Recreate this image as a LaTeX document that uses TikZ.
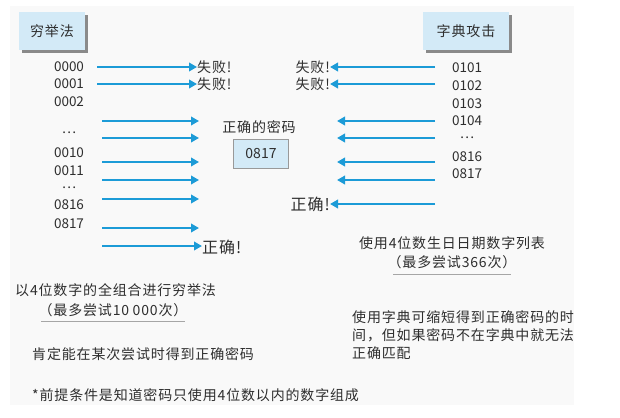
\documentclass[tikz,border=0pt]{standalone}
\usepackage{fontspec}
\setmainfont{Noto Sans CJK SC}
\newfontfamily\cjkspaced[LetterSpace=6]{Noto Sans CJK SC}
\usetikzlibrary{arrows.meta}
\definecolor{arrowblue}{HTML}{1C9BD7}
\definecolor{boxblue}{HTML}{D3EAF7}
\definecolor{txt}{HTML}{2E2E2E}
\definecolor{shadowgray}{HTML}{8A8A8A}
\definecolor{bgpale}{HTML}{F9F9F9}
\begin{document}
\begin{tikzpicture}[x=1pt,y=-1pt,
  every node/.style={text=txt,inner sep=0pt},
  num/.style={font=\fontsize{13.5}{14}\selectfont},
  cjk/.style={font=\cjkspaced\fontsize{14}{18}\selectfont},
  big/.style={font=\cjkspaced\fontsize{16}{18}\selectfont},
  titlebox/.style={draw=none,fill=boxblue,minimum width=66pt,minimum height=38pt,font=\cjkspaced\fontsize{14}{16}\selectfont},
  arr/.style={draw=arrowblue,line width=2.6pt,-{Triangle[length=8pt,width=8.5pt]}},
  uline/.style={draw=gray!70,line width=1pt}]
\useasboundingbox (0,0) rectangle (620,417);
\fill[bgpale] (10,6) rectangle (574,405);

% title boxes with shadow
\fill[shadowgray] (22,15) rectangle (88,53);
\node[titlebox] (tbl) at (52,31) {穷举法};
\fill[shadowgray] (426,15) rectangle (512,53);
\node[titlebox,minimum width=86pt] (tbr) at (466,31) {字典攻击};

% left numbers
\foreach \t/\y/\n in {0000/67/a,0001/84/b,0002/102/c,\dots/133/d,0010/153/e,0011/171/f,\dots/188/g,0816/205/h,0817/224/i}
  \node[num] (L\n) at (69,\y) {\t};

% right numbers
\foreach \t/\y/\n in {0101/68/a,0102/86/b,0103/104/c,0104/121/d,\dots/138/e,0816/157/f,0817/174/g}
  \node[num] (R\n) at (467,\y) {\t};

% left fail labels
\node[cjk,anchor=west] (lf1) at (197,67) {失败!};
\node[cjk,anchor=west] (lf2) at (197,84) {失败!};
% right fail labels
\node[cjk,anchor=east] (rf1) at (330,67) {失败!};
\node[cjk,anchor=east] (rf2) at (330,84) {失败!};

% correct password
\node[cjk] (pwlabel) at (259,127) {正确的密码};
\node[draw=gray!80,fill=boxblue,line width=0.8pt,minimum width=55pt,minimum height=29pt,font=\fontsize{14}{15}\selectfont] (pw) at (261,154) {0817};

% correct labels
\node[big,anchor=west] (lok) at (202,247) {正确!};
\node[big,anchor=east] (rok) at (330,204) {正确!};

% left arrows
\coordinate (s1) at (97,67);  \coordinate (e1) at (lf1.west);
\coordinate (s2) at (97,84);  \coordinate (e2) at (lf2.west);
\draw[arr] (s1) -- (e1);
\draw[arr] (s2) -- (e2);
\foreach \y/\n in {121/3,138/4,162/5,180/6,199/7,228/8}{
  \coordinate (s\n) at (102,\y); \coordinate (e\n) at (199,\y);
  \draw[arr] (s\n) -- (e\n);
}
\coordinate (s9) at (102,246);
\draw[arr] (s9) -- (lok.west |- s9);

% right arrows
\coordinate (r1) at (435,67); \draw[arr] (r1) -- (rf1.east |- r1);
\coordinate (r2) at (435,84); \draw[arr] (r2) -- (rf2.east |- r2);
\foreach \y/\n in {121/3,138/4,162/5,180/6}{
  \coordinate (r\n) at (435,\y); \coordinate (q\n) at (337,\y);
  \draw[arr] (r\n) -- (q\n);
}
\coordinate (r7) at (435,204); \draw[arr] (r7) -- (rok.east |- r7);

% right captions
\node[cjk] (rc1) at (452,243) {使用4位数生日日期数字列表};
\node[cjk] (rc2) at (452,262) {（最多尝试366次）};
\coordinate (ru1) at (393,274); \coordinate (ru2) at (511,274);
\draw[uline] (ru1) -- (ru2);
\node[cjk,anchor=north west,align=left] (rp) at (352,310) {使用字典可缩短得到正确密码的时\\间，但如果密码不在字典中就无法\\正确匹配};

% left captions
\node[cjk,anchor=west] (lc1) at (15,290) {以4位数字的全组合进行穷举法};
\node[cjk] (lc2) at (113,310) {（最多尝试10\hspace{3.5pt}000次）};
\coordinate (lu1) at (41,321); \coordinate (lu2) at (185,321);
\draw[uline] (lu1) -- (lu2);
\node[cjk,anchor=west] (lc3) at (32,354) {肯定能在某次尝试时得到正确密码};
\node[cjk,anchor=west] (lc4) at (32,395) {*前提条件是知道密码只使用4位数以内的数字组成};
\end{tikzpicture}
\end{document}
